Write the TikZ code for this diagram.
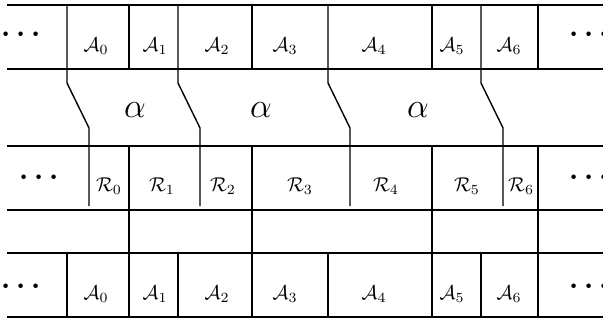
\documentclass[tikz,border=0pt]{standalone}
\begin{document}
\begin{tikzpicture}[x=0.5pt,y=-0.5pt,line width=0.7pt,
  lbl/.style={anchor=base,inner sep=0pt},
  dotsn/.style={inner sep=0pt,font=\Large\boldmath},
  alph/.style={inner sep=0pt,font=\LARGE}]
\useasboundingbox (0,0) rectangle (603,321);
\clip (0,0) rectangle (603,321);
% horizontal rules
\foreach \y in {5,69,146,210,253,317} \draw (7,\y) -- (603,\y);
% top row plain verticals
\foreach \x in {129,252,432,538} \draw (\x,5) -- (\x,69);
% full verticals through the lower three rows
\foreach \x in {129,252,432,538} \draw (\x,146) -- (\x,317);
% bottom row verticals
\foreach \x in {67,178,328,481} \draw (\x,253) -- (\x,317);
% slanted separators
\foreach \x in {67,178,328,481} \draw (\x,5) -- (\x,83) -- (\x+22,128) -- (\x+22,206);
% top row labels
\node[dotsn] (td) at (21,35) {$\cdots$};
\node[lbl] (ta0) at (96,51) {$\mathcal{A}_0$};
\node[lbl] (ta1) at (155,51) {$\mathcal{A}_1$};
\node[lbl] (ta2) at (217,51) {$\mathcal{A}_2$};
\node[lbl] (ta3) at (285,51) {$\mathcal{A}_3$};
\node[lbl] (ta4) at (374,51) {$\mathcal{A}_4$};
\node[lbl] (ta5) at (452,51) {$\mathcal{A}_5$};
\node[lbl] (ta6) at (509,51) {$\mathcal{A}_6$};
\node[dotsn] (tdr) at (589,35) {$\cdots$};
% alpha labels
\node[alph] (al1) at (135,110) {$\alpha$};
\node[alph] (al2) at (261,110) {$\alpha$};
\node[alph] (al3) at (418,110) {$\alpha$};
% R row labels
\node[dotsn] (rd) at (39,178) {$\cdots$};
\node[lbl] (r0) at (109,191) {$\mathcal{R}_0$};
\node[lbl] (r1) at (162,191) {$\mathcal{R}_1$};
\node[lbl] (r2) at (223,191) {$\mathcal{R}_2$};
\node[lbl] (r3) at (300,191) {$\mathcal{R}_3$};
\node[lbl] (r4) at (386,191) {$\mathcal{R}_4$};
\node[lbl] (r5) at (467,191) {$\mathcal{R}_5$};
\node[lbl] (r6) at (521,191) {$\mathcal{R}_6$};
\node[dotsn] (rdr) at (589,178) {$\cdots$};
% bottom row labels
\node[dotsn] (bd) at (21,287) {$\cdots$};
\node[lbl] (ba0) at (96,299) {$\mathcal{A}_0$};
\node[lbl] (ba1) at (155,299) {$\mathcal{A}_1$};
\node[lbl] (ba2) at (217,299) {$\mathcal{A}_2$};
\node[lbl] (ba3) at (285,299) {$\mathcal{A}_3$};
\node[lbl] (ba4) at (374,299) {$\mathcal{A}_4$};
\node[lbl] (ba5) at (452,299) {$\mathcal{A}_5$};
\node[lbl] (ba6) at (509,299) {$\mathcal{A}_6$};
\node[dotsn] (bdr) at (589,287) {$\cdots$};
\end{tikzpicture}
\end{document}
